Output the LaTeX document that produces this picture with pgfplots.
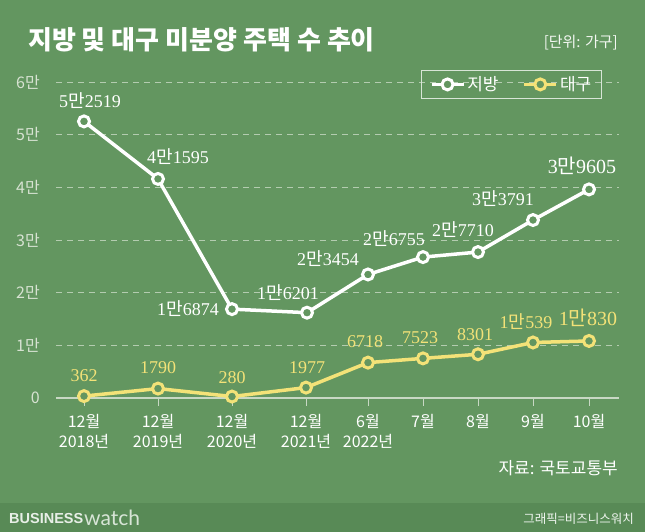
\documentclass[border=0pt]{standalone}
\usepackage{fontspec}
\usepackage{pgfplots}
\pgfplotsset{compat=1.18}
\setmainfont{Liberation Serif}
\newfontfamily\kr{Noto Sans CJK KR}
\newfontfamily\lib{Liberation Sans}
\newfontfamily\lato{Lato}
\protected\def\man{{\kr 만}}
\definecolor{bg}{RGB}{99,150,96}
\definecolor{foot}{RGB}{88,138,86}
\definecolor{yel}{RGB}{243,226,120}
\definecolor{gridc}{RGB}{180,204,176}
\definecolor{ticklab}{RGB}{215,226,210}
\definecolor{axisc}{RGB}{200,216,196}
\tikzset{
  lab/.style={anchor=center, inner sep=0pt, font=\fontsize{18}{18}\selectfont},
  labb/.style={anchor=center, inner sep=0pt, font=\fontsize{20}{20}\selectfont},
}

\begin{document}
\begin{tikzpicture}
\fill[bg] (0,0) rectangle (645pt,532pt);
\fill[foot] (0,0) rectangle (645pt,29pt);
\node[anchor=west,inner sep=0,text=white,font=\kr\bfseries\fontsize{26}{26}\selectfont] at (28pt,492pt) {지방 및 대구 미분양 주택 수 추이};
\node[anchor=east,inner sep=0,text=white!92!bg,font=\kr\fontsize{15}{15}\selectfont] at (618pt,489pt) {[단위: 가구]};
\node[anchor=east,inner sep=0,text=white,font=\kr\fontsize{17}{17}\selectfont] at (618pt,64pt) {자료: 국토교통부};
\node[anchor=west,inner sep=0,text=white!85!bg,font=\lib\bfseries\fontsize{14.5}{14.5}\selectfont] at (9pt,13pt) {BUSINESS};
\node[anchor=west,inner sep=0,text=white!75!bg,font=\lato\fontsize{21}{21}\selectfont] at (84pt,14pt) {watch};
\node[anchor=east,inner sep=0,text=white!90!bg,font=\kr\fontsize{12.5}{12.5}\selectfont] at (634pt,13pt) {그래픽=비즈니스워치};

\begin{axis}[
  at={(56pt,134pt)}, anchor=south west,
  scale only axis, width=563pt, height=316pt,
  xmin=56, xmax=619, ymin=0, ymax=60000,
  clip=false,
  scaled y ticks=false,
  axis x line*=bottom, axis y line*=left,
  x axis line style={draw=axisc, line width=1.2pt, -},
  y axis line style={draw=none},
  ytick={0,10000,20000,30000,40000,50000,60000},
  yticklabels={0,1만,2만,3만,4만,5만,6만},
  yticklabel style={inner sep=0pt, xshift=-8pt, text=ticklab, font=\kr\fontsize{16}{16}\selectfont},
  ytick style={draw=none},
  ymajorgrids,
  major grid style={draw=gridc, line width=0.9pt, dash pattern=on 6pt off 5pt},
  xtick={84,158,232,306,368,423,478,533,589},
  xticklabels={{12월\\2018년},{12월\\2019년},{12월\\2020년},{12월\\2021년},{6월\\2022년},7월,8월,9월,10월},
  xticklabel style={align=center, anchor=north, inner sep=0pt, yshift=-8pt, text=white, font=\kr\fontsize{16}{20}\selectfont},
  tick align=outside, major tick length=8pt,
  xtick style={draw=axisc, line width=1pt},
  legend columns=2,
  legend style={at={(0.9698,1.038)}, anchor=north east, draw=white!75!bg, line width=1.3pt, fill=none,
    inner xsep=8pt, inner ysep=4pt, text=white, font=\kr\fontsize{17}{17}\selectfont,
    /tikz/every even column/.append style={column sep=22pt}},
  legend image code/.code={\draw[mark repeat=2,mark phase=2] plot coordinates {(0pt,0pt) (16pt,0pt) (32pt,0pt)};},
]
\addplot[draw=white, line width=3.5pt, mark=*, mark size=5.5pt,
  mark options={fill=bg, draw=white, line width=3pt}]
  coordinates {(84,52519) (158,41595) (232,16874) (307,16201) (368,23454) (423,26755) (478,27710) (533,33791) (589,39605)};
\addlegendentry{지방}
\addplot[draw=yel, line width=3.5pt, mark=*, mark size=5.5pt,
  mark options={fill=bg, draw=yel, line width=3pt}]
  coordinates {(84,362) (158,1790) (232,280) (306,1977) (368,6718) (423,7523) (478,8301) (533,10539) (589,10830)};
\addlegendentry{대구}
% value labels (text only)
\node[lab,text=white] at ([shift={(6pt,21pt)}]axis cs:84,52519) {5\man2519};
\node[lab,text=white] at ([shift={(20pt,22pt)}]axis cs:158,41595) {4\man1595};
\node[lab,text=white] at ([shift={(-44pt,1pt)}]axis cs:232,16874) {1\man6874};
\node[lab,text=white] at ([shift={(-19pt,20pt)}]axis cs:307,16201) {1\man6201};
\node[lab,text=white] at ([shift={(-40pt,16pt)}]axis cs:368,23454) {2\man3454};
\node[lab,text=white] at ([shift={(-29pt,19pt)}]axis cs:423,26755) {2\man6755};
\node[lab,text=white] at ([shift={(-15pt,22pt)}]axis cs:478,27710) {2\man7710};
\node[lab,text=white] at ([shift={(-30pt,21pt)}]axis cs:533,33791) {3\man3791};
\node[labb,text=white] at ([shift={(-7pt,24pt)}]axis cs:589,39605) {3\man9605};
\node[lab,text=yel] at ([shift={(0pt,20pt)}]axis cs:84,362) {362};
\node[lab,text=yel] at ([shift={(0pt,21pt)}]axis cs:158,1790) {1790};
\node[lab,text=yel] at ([shift={(0pt,19pt)}]axis cs:232,280) {280};
\node[lab,text=yel] at ([shift={(1pt,20pt)}]axis cs:306,1977) {1977};
\node[lab,text=yel] at ([shift={(-3pt,21pt)}]axis cs:368,6718) {6718};
\node[lab,text=yel] at ([shift={(-3pt,21pt)}]axis cs:423,7523) {7523};
\node[lab,text=yel] at ([shift={(-3pt,20pt)}]axis cs:478,8301) {8301};
\node[lab,text=yel] at ([shift={(-7pt,21pt)}]axis cs:533,10539) {1\man539};
\node[labb,text=yel] at ([shift={(-1pt,23pt)}]axis cs:589,10830) {1\man830};
\end{axis}
\end{tikzpicture}
\end{document}
